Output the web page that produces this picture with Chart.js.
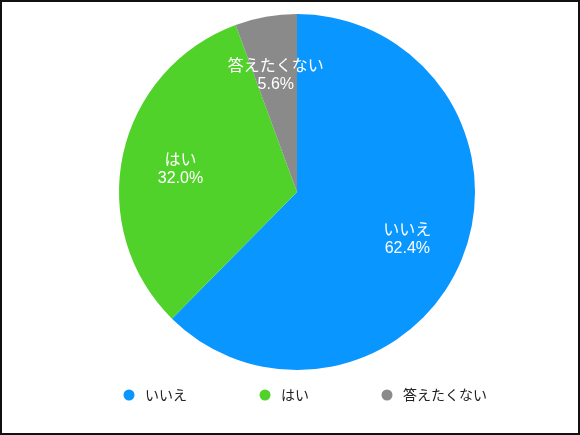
<!DOCTYPE html>
<html>
<head>
<meta charset="utf-8">
<script src="https://cdn.jsdelivr.net/npm/chart.js@4"></script>
<style>
  body { margin: 0; background: #fff; }
  #wrap { width: 580px; height: 435px; box-sizing: border-box; border: 2px solid #111; }
</style>
</head>
<body>
<div id="wrap"><canvas id="pie"></canvas></div>
<script>
const labels = ['いいえ', 'はい', '答えたくない'];
const values = [62.4, 32.0, 5.6];
const colors = ['#0a96ff', '#50d22a', '#8a8a8a'];

// Draw the name and percent inside each slice
const sliceLabels = {
  id: 'sliceLabels',
  afterDatasetsDraw(chart) {
    const ctx = chart.ctx;
    const meta = chart.getDatasetMeta(0);
    ctx.save();
    ctx.fillStyle = '#fff';
    ctx.textAlign = 'center';
    meta.data.forEach((arc, i) => {
      const mid = (arc.startAngle + arc.endAngle) / 2;
      const r = arc.outerRadius * (i === 2 ? 0.68 : 0.67);
      const x = arc.x + Math.cos(mid) * r;
      const y = arc.y + Math.sin(mid) * r;
      ctx.font = '16px "Noto Sans CJK JP", sans-serif';
      ctx.fillText(labels[i], x, y - 2);
      ctx.font = '16px "Liberation Sans", sans-serif';
      ctx.fillText(values[i].toFixed(1) + '%', x, y + 16);
    });
    ctx.restore();
  }
};

// Wide-spaced legend below the pie
const wideLegend = {
  id: 'wideLegend',
  afterDraw(chart) {
    const ctx = chart.ctx;
    ctx.save();
    ctx.font = '14px "Noto Sans CJK JP", sans-serif';
    ctx.textBaseline = 'middle';
    let x = 122;
    const y = 393;
    labels.forEach((l, i) => {
      ctx.fillStyle = colors[i];
      ctx.beginPath();
      ctx.arc(x + 5, y, 5.5, 0, Math.PI * 2);
      ctx.fill();
      ctx.fillStyle = '#222';
      ctx.fillText(l, x + 21, y);
      x += 21 + ctx.measureText(l).width + 73;
    });
    ctx.restore();
  }
};

new Chart(document.getElementById('pie'), {
  type: 'pie',
  data: {
    labels: labels,
    datasets: [{ data: values, backgroundColor: colors, borderWidth: 0 }]
  },
  options: {
    responsive: true,
    maintainAspectRatio: false,
    animation: false,
    layout: { padding: { top: 12, bottom: 63, left: 14 } },
    plugins: {
      tooltip: { enabled: false },
      legend: { display: false }
    }
  },
  plugins: [sliceLabels, wideLegend]
});
</script>
</body>
</html>
